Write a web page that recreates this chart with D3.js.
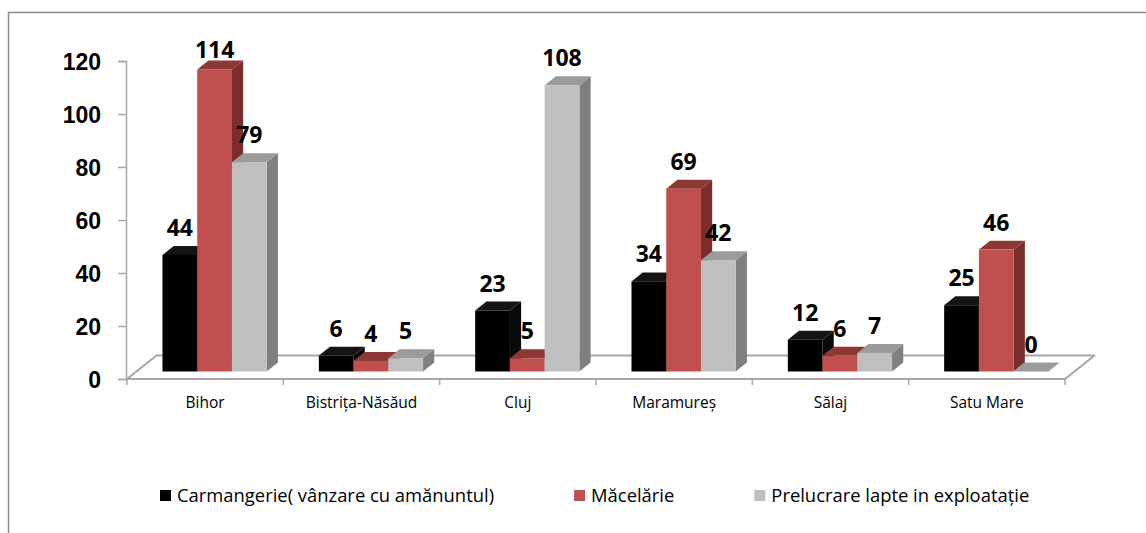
<!DOCTYPE html>
<html>
<head>
<meta charset="utf-8">
<script src="https://d3js.org/d3.v7.min.js"></script>
<style>
    body {margin: 0; background: #fff;}
    #chart {font-family: "Open Sans", sans-serif;}
    .num {font-weight: bold; font-size: 23px; fill: #000;}
    .cat {font-size: 15.5px; fill: #000;}
    .leg {font-size: 18.4px; fill: #000;}
</style>
</head>
<body>
<div id="chart"></div>
<script>

    const categories = ["Bihor", "Bistrița-Năsăud", "Cluj", "Maramureș", "Sălaj", "Satu Mare"];
    const seriesNames = ["Carmangerie( vânzare cu amănuntul)", "Măcelărie", "Prelucrare lapte in exploatație"];
    const carmangerie = [44, 6, 23, 34, 12, 25];
    const macelarie = [114, 4, 5, 69, 6, 46];
    const prelucrareLapte = [79, 5, 108, 42, 7, 0];
    const yTicks = [0, 20, 40, 60, 80, 100, 120];

    const series = [carmangerie, macelarie, prelucrareLapte];

    // front, top, side
    const shades = [
        ["#000000", "#141414", "#0a0a0a"],
        ["#C0504D", "#8c3936", "#7b2d2b"],
        ["#BFBFBF", "#9b9b9b", "#7f7f7f"]
    ];

    let width = 1146, height = 533;

    // floor depth offsets (oblique view)
    let DX = 29.5, DY = -23.5;
    let d0 = 0.32, d1 = 0.70;

    let x = d3.scaleBand()
        .domain(categories)
        .range([127, 1065]);

    let xs = d3.scaleBand()
        .domain(d3.range(series.length))
        .range([0, x.bandwidth()])
        .paddingOuter(0.75);

    let y = d3.scaleLinear()
        .domain([0, 120])
        .range([379, 61]);

    function proj(px, v, d) {
        return [px + d * DX, y(v) + d * DY];
    }

    let svg = d3.select("#chart")
        .append("svg")
        .attr("width", width)
        .attr("height", height);

    // outer chart border
    svg.append("rect")
        .attr("x", 8.5).attr("y", 12.5)
        .attr("width", width + 20).attr("height", height + 20)
        .attr("fill", "#fff")
        .attr("stroke", "#8a8a8a")
        .attr("stroke-width", 1.5);

    // floor
    let xl = x.range()[0], xr = x.range()[1];
    let floorPts = [proj(xl, 0, 0), proj(xr, 0, 0), proj(xr, 0, 1), proj(xl, 0, 1)];
    svg.append("polygon")
        .attr("points", floorPts.map(p => p.join(",")).join(" "))
        .attr("fill", "#fff")
        .attr("stroke", "#a6a6a6")
        .attr("stroke-width", 2)
        .attr("stroke-linejoin", "round");

    // category boundary ticks
    let bounds = categories.map(c => x(c)).concat([xr]);
    svg.selectAll(".ctick")
        .data(bounds)
        .enter().append("line")
        .attr("x1", d => d).attr("x2", d => d)
        .attr("y1", y(0)).attr("y2", y(0) + 6)
        .attr("stroke", "#a6a6a6")
        .attr("stroke-width", 1.5);

    // value axis
    let yAxis = d3.axisLeft(y)
        .tickValues(yTicks)
        .tickSize(8)
        .tickPadding(17);

    let gy = svg.append("g")
        .attr("transform", "translate(" + (xl - 1) + ",0)")
        .call(yAxis);
    gy.select(".domain").attr("stroke", "#a6a6a6").attr("stroke-width", 1.5);
    gy.selectAll(".tick line").attr("stroke", "#a6a6a6").attr("stroke-width", 1.5);
    gy.selectAll(".tick text")
        .attr("class", "num")
        .attr("font-family", null)
        .attr("font-size", null)
        .attr("fill", "#000")
        .attr("dy", "0.36em");

    // category labels
    svg.selectAll(".cat")
        .data(categories)
        .enter().append("text")
        .attr("class", "cat")
        .attr("x", d => x(d) + x.bandwidth() / 2)
        .attr("y", 408)
        .attr("text-anchor", "middle")
        .text(d => d);

    // bars
    let bars = [];
    categories.forEach(function(c, ci) {
        series.forEach(function(s, si) {
            bars.push({cat: c, si: si, v: s[ci]});
        });
    });

    let gb = svg.append("g");
    bars.forEach(function(b) {
        let xa = x(b.cat) + xs(b.si), xb = xa + xs.bandwidth();
        let col = shades[b.si];
        let g = gb.append("g");
        // side face
        let side = [proj(xb, 0, d0), proj(xb, b.v, d0), proj(xb, b.v, d1), proj(xb, 0, d1)];
        g.append("polygon")
            .attr("points", side.map(p => p.join(",")).join(" "))
            .attr("fill", col[2]);
        // top face
        let top = [proj(xa, b.v, d0), proj(xb, b.v, d0), proj(xb, b.v, d1), proj(xa, b.v, d1)];
        g.append("polygon")
            .attr("points", top.map(p => p.join(",")).join(" "))
            .attr("fill", col[1]);
        // front face
        let f0 = proj(xa, b.v, d0), f1 = proj(xb, 0, d0);
        g.append("rect")
            .attr("x", f0[0]).attr("y", f0[1])
            .attr("width", f1[0] - f0[0])
            .attr("height", Math.max(0, f1[1] - f0[1]))
            .attr("fill", col[0]);
    });

    // data labels
    svg.selectAll(".lbl")
        .data(bars)
        .enter().append("text")
        .attr("class", "num")
        .attr("text-anchor", "middle")
        .attr("x", d => proj(x(d.cat) + xs(d.si) + xs.bandwidth() / 2, d.v, d0)[0])
        .attr("y", d => Math.max(proj(0, d.v, d1)[1] - 10, y(120) - 3))
        .text(d => d.v);

    // legend
    let leg = svg.append("g");
    let lx = 160;
    seriesNames.forEach(function(name, i) {
        leg.append("rect")
            .attr("x", lx).attr("y", 490)
            .attr("width", 11).attr("height", 11)
            .attr("fill", shades[i][0]);
        let t = leg.append("text")
            .attr("class", "leg")
            .attr("x", lx + 17)
            .attr("y", 502)
            .text(name);
        lx += 17 + t.node().getComputedTextLength() + 80;
    });

</script>
</body>
</html>
